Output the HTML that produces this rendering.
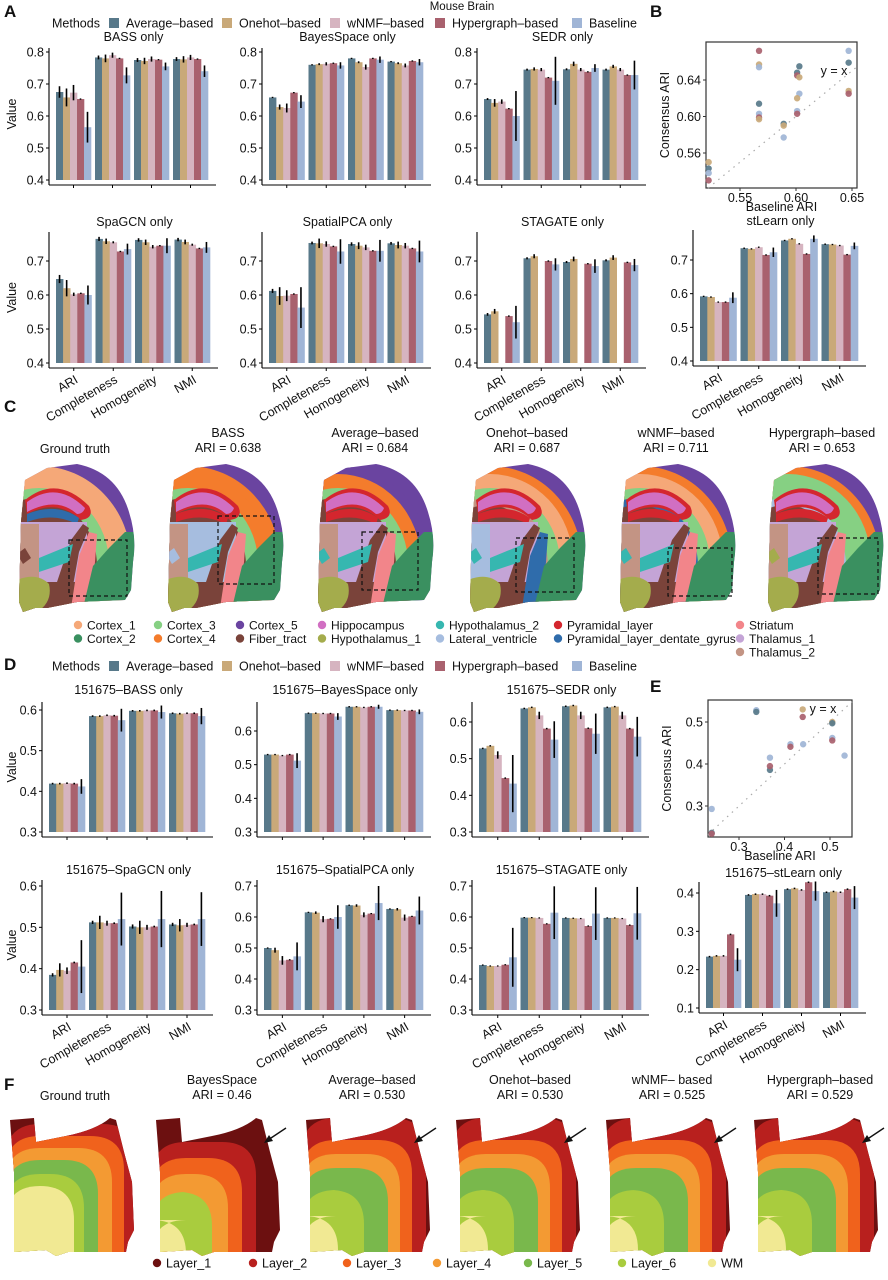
<!DOCTYPE html>
<html><head><meta charset="utf-8"><style>
html,body{margin:0;padding:0;background:#fff;overflow:hidden;width:888px;height:1280px;}
svg{display:block;font-family:"Liberation Sans",Arial,sans-serif;}
</style></head><body>
<svg id="fig" width="888" height="1280" viewBox="0 0 888 1280" xmlns="http://www.w3.org/2000/svg"></svg>
<script>
// ---------- data ----------
const METHODS = ['Average\u2013based','Onehot\u2013based','wNMF\u2013based','Hypergraph\u2013based','Baseline'];
const COLORS = ['#58798a','#c9a979','#d6b4c0','#a9616e','#a0b5d6'];
const METRICS = ['ARI','Completeness','Homogeneity','NMI'];
const TICKS_A1 = [0.4,0.5,0.6,0.7,0.8];
const TICKS_A2 = [0.4,0.5,0.6,0.7];
const TICKS_D1 = [0.3,0.4,0.5,0.6];
const TICKS_D2 = [0.3,0.4,0.5,0.6,0.7];
const TICKS_DL = [0.1,0.2,0.3,0.4];

const A_BASS = [[0.675,0.658,0.673,0.653,0.565],[0.783,0.780,0.790,0.780,0.727],[0.775,0.772,0.778,0.776,0.755],[0.778,0.777,0.783,0.778,0.740]];
const A_BASS_ERR = [[0.018,0.028,0.024,0.002,0.048],[0.006,0.012,0.008,0.002,0.025],[0.006,0.01,0.008,0.002,0.012],[0.006,0.01,0.008,0.002,0.018]];
const A_BAYES = [[0.658,0.628,0.625,0.673,0.645],[0.760,0.762,0.763,0.765,0.758],[0.780,0.768,0.753,0.780,0.776],[0.770,0.765,0.758,0.772,0.768]];
const A_BAYES_ERR = [[0.002,0.008,0.014,0.002,0.02],[0.002,0.003,0.005,0.002,0.01],[0.002,0.003,0.008,0.002,0.01],[0.002,0.003,0.006,0.002,0.01]];
const A_SEDR = [[0.653,0.641,0.645,0.623,0.600],[0.745,0.747,0.745,0.720,0.710],[0.746,0.763,0.745,0.738,0.750],[0.745,0.755,0.745,0.728,0.728]];
const A_SEDR_ERR = [[0.003,0.012,0.007,0.002,0.078],[0.003,0.005,0.005,0.002,0.075],[0.003,0.007,0.005,0.002,0.012],[0.003,0.005,0.005,0.002,0.045]];
const A_SPAGCN = [[0.647,0.620,0.602,0.605,0.600],[0.765,0.758,0.755,0.728,0.735],[0.762,0.755,0.742,0.745,0.745],[0.763,0.756,0.748,0.737,0.740]];
const A_SPAGCN_ERR = [[0.012,0.024,0.005,0.002,0.028],[0.006,0.008,0.003,0.002,0.016],[0.005,0.008,0.005,0.002,0.022],[0.005,0.007,0.003,0.002,0.016]];
const A_SPCA = [[0.612,0.597,0.598,0.603,0.563],[0.753,0.752,0.750,0.743,0.728],[0.750,0.745,0.740,0.730,0.730],[0.752,0.747,0.745,0.737,0.728]];
const A_SPCA_ERR = [[0.006,0.026,0.016,0.002,0.06],[0.004,0.014,0.008,0.002,0.036],[0.005,0.01,0.008,0.002,0.032],[0.004,0.01,0.008,0.002,0.032]];
const A_STAG = [[0.543,0.552,null,0.538,0.520],[0.708,0.714,null,0.700,0.690],[0.697,0.706,null,0.692,0.685],[0.702,0.710,null,0.696,0.688]];
const A_STAG_ERR = [[0.004,0.007,0,0.002,0.048],[0.003,0.006,0,0.002,0.018],[0.003,0.007,0,0.002,0.02],[0.003,0.007,0,0.002,0.018]];
const A_STL = [[0.592,0.590,0.575,0.575,0.588],[0.735,0.733,0.738,0.715,0.723],[0.758,0.763,0.748,0.718,0.763],[0.747,0.746,0.743,0.716,0.742]];
const A_STL_ERR = [[0.002,0.002,0.002,0.002,0.016],[0.002,0.002,0.002,0.002,0.014],[0.002,0.002,0.002,0.002,0.01],[0.002,0.002,0.002,0.002,0.01]];

const D_BASS = [[0.419,0.419,0.420,0.419,0.412],[0.585,0.585,0.587,0.586,0.575],[0.598,0.598,0.599,0.599,0.595],[0.592,0.591,0.592,0.592,0.585]];
const D_BASS_ERR = [[0.002,0.002,0.002,0.002,0.018],[0.002,0.002,0.002,0.002,0.028],[0.002,0.002,0.002,0.002,0.016],[0.002,0.002,0.002,0.002,0.02]];
const D_BAYES = [[0.530,0.530,0.527,0.530,0.512],[0.653,0.653,0.652,0.652,0.643],[0.672,0.672,0.670,0.672,0.672],[0.662,0.662,0.661,0.661,0.657]];
const D_BAYES_ERR = [[0.002,0.002,0.002,0.002,0.022],[0.002,0.002,0.002,0.002,0.01],[0.002,0.002,0.002,0.002,0.006],[0.002,0.002,0.002,0.002,0.007]];
const D_SEDR = [[0.528,0.535,0.510,0.447,0.432],[0.637,0.640,0.618,0.582,0.552],[0.643,0.645,0.618,0.583,0.568],[0.640,0.642,0.618,0.582,0.560]];
const D_SEDR_ERR = [[0.002,0.002,0.01,0.002,0.078],[0.002,0.002,0.01,0.002,0.05],[0.002,0.002,0.01,0.002,0.055],[0.002,0.002,0.01,0.002,0.054]];
const D_SPAGCN = [[0.385,0.397,0.395,0.415,0.405],[0.512,0.512,0.510,0.510,0.520],[0.502,0.500,0.500,0.502,0.520],[0.507,0.505,0.506,0.507,0.520]];
const D_SPAGCN_ERR = [[0.004,0.016,0.008,0.002,0.064],[0.004,0.016,0.006,0.002,0.064],[0.005,0.016,0.006,0.002,0.068],[0.004,0.015,0.005,0.002,0.065]];
const D_SPCA = [[0.500,0.493,0.460,0.462,0.473],[0.615,0.614,0.593,0.594,0.600],[0.638,0.637,0.607,0.611,0.645],[0.626,0.625,0.598,0.602,0.621]];
const D_SPCA_ERR = [[0.002,0.008,0.014,0.002,0.045],[0.002,0.004,0.01,0.002,0.038],[0.002,0.004,0.008,0.002,0.055],[0.002,0.004,0.01,0.002,0.045]];
const D_STAG = [[0.445,0.442,0.442,0.446,0.470],[0.598,0.598,0.597,0.578,0.614],[0.597,0.596,0.595,0.571,0.611],[0.597,0.597,0.595,0.574,0.612]];
const D_STAG_ERR = [[0.002,0.002,0.002,0.002,0.095],[0.002,0.002,0.002,0.002,0.085],[0.002,0.002,0.002,0.002,0.085],[0.002,0.002,0.002,0.002,0.085]];
const D_STL = [[0.234,0.236,0.236,0.292,0.226],[0.395,0.397,0.397,0.393,0.373],[0.410,0.412,0.408,0.428,0.405],[0.402,0.404,0.402,0.410,0.388]];
const D_STL_ERR = [[0.002,0.002,0.002,0.002,0.03],[0.002,0.002,0.002,0.002,0.035],[0.002,0.002,0.002,0.002,0.025],[0.002,0.002,0.002,0.002,0.03]];

const B_BASE = [0.522,0.522,0.522,0.522,0.567,0.567,0.567,0.567,0.567,0.567,0.567,0.589,0.589,0.589,0.601,0.601,0.603,0.603,0.603,0.601,0.601,0.601,0.647,0.647,0.647,0.647];
const B_CONS = [0.550,0.543,0.538,0.530,0.672,0.657,0.654,0.614,0.603,0.599,0.597,0.592,0.590,0.577,0.648,0.645,0.655,0.643,0.625,0.620,0.606,0.603,0.672,0.659,0.628,0.625];
const B_METHOD = [1,0,4,3,3,1,4,0,4,3,1,0,1,4,0,3,0,1,4,1,4,3,4,0,1,3];
const B_XTICKS = [0.55,0.60,0.65];
const B_YTICKS = [0.56,0.60,0.64];
const E_BASE = [0.240,0.240,0.240,0.338,0.338,0.368,0.368,0.368,0.413,0.413,0.441,0.440,0.440,0.505,0.505,0.505,0.505,0.532];
const E_CONS = [0.236,0.234,0.293,0.528,0.524,0.386,0.395,0.415,0.447,0.441,0.447,0.530,0.512,0.500,0.497,0.462,0.456,0.420];
const E_METHOD = [0,3,4,4,0,0,3,4,4,3,4,1,3,1,0,4,3,4];
const E_XTICKS = [0.3,0.4,0.5];
const E_YTICKS = [0.3,0.4,0.5];

const C_LABELS = ['Cortex_1','Cortex_2','Cortex_3','Cortex_4','Cortex_5','Fiber_tract','Hippocampus','Hypothalamus_1','Hypothalamus_2','Lateral_ventricle','Pyramidal_layer','Pyramidal_layer_dentate_gyrus','Striatum','Thalamus_1','Thalamus_2'];
const C_COLORS = ['#f5a878','#3a9060','#86d083','#f47c2c','#6a44a0','#7a433a','#d16fc2','#a4ac4c','#36b7b0','#a6bddf','#d4262e','#2f6cab','#f2858a','#c4a4d6','#c39484'];
const C_TITLES = [['Ground truth',''],['BASS','ARI = 0.638'],['Average\u2013based','ARI = 0.684'],['Onehot\u2013based','ARI = 0.687'],['wNMF\u2013based','ARI = 0.711'],['Hypergraph\u2013based','ARI = 0.653']];
const F_LABELS = ['Layer_1','Layer_2','Layer_3','Layer_4','Layer_5','Layer_6','WM'];
const F_COLORS = ['#6c1010','#b8201e','#f0621c','#f39a33','#79b84c','#a9cc3e','#f1e993'];
const F_TITLES = [['Ground truth',''],['BayesSpace','ARI = 0.46'],['Average\u2013based','ARI = 0.530'],['Onehot\u2013based','ARI = 0.530'],['wNMF\u2013 based','ARI = 0.525'],['Hypergraph\u2013based','ARI = 0.529']];

// ---------- helpers ----------
const NS='http://www.w3.org/2000/svg';
const svg=document.getElementById('fig');
function el(tag,attrs,parent,txt){const e=document.createElementNS(NS,tag);for(const k in attrs)e.setAttribute(k,attrs[k]);if(txt!==undefined)e.textContent=txt;(parent||svg).appendChild(e);return e;}
function text(x,y,s,parent,opt){opt=opt||{};const t=el('text',{x:x,y:y,'font-size':opt.fs||12,fill:opt.fill||'#111','text-anchor':opt.anchor||'middle'},parent,s);if(opt.weight)t.setAttribute('font-weight',opt.weight);if(opt.rot!==undefined)t.setAttribute('transform','rotate('+opt.rot+' '+x+' '+y+')');return t;}

function panelLetter(x,y,s){const t=text(x,y,s,svg,{fs:17,weight:'bold',anchor:'start'});

}

function barPanel(p){
  const g=el('g',{});
  
  
  const k=(p.y0-p.y1)/(p.v1-p.v0);
  const Y=v=>p.y0-(v-p.v0)*k;
  const vmin=p.ticks[0];
  const base=Y(vmin);
  const axY=base+5;
  const gw=(p.bx1-p.bx0)/4, gap=4, bw=(gw-gap)/5;
  const tt=text((p.ax+p.bx1)/2+4,p.ty,p.title,g,{fs:12.5});
  
  
  for(let m=0;m<4;m++){
    for(let s=0;s<5;s++){
      const v=p.data[m][s]; if(v===null) continue;
      const x=p.bx0+m*gw+gap/2+s*bw;
      const r=el('rect',{x:x.toFixed(2),y:Y(v).toFixed(2),width:(bw+0.3).toFixed(2),height:(base-Y(v)).toFixed(2),fill:COLORS[s]},g);
      
      
      const e=p.err[m][s];
      const cx=x+bw/2;
      el('line',{x1:cx,x2:cx,y1:Y(v+e),y2:Y(v-e),stroke:'#000','stroke-width':1.6},g);
    }
  }
  const ya=el('line',{x1:p.ax,x2:p.ax,y1:p.ytop,y2:axY,stroke:'#000','stroke-width':1.1},g);
  
  
  const xa=el('line',{x1:p.ax,x2:p.bx1+6,y1:axY,y2:axY,stroke:'#000','stroke-width':1.1},g);
  
  
  p.ticks.forEach(t=>{
    const y=Y(t);
    el('line',{x1:p.ax-3,x2:p.ax,y1:y,y2:y,stroke:'#000','stroke-width':1},g);
    const lb=text(p.ax-5,y+4.5,t.toFixed(1),g,{fs:12.5,anchor:'end'});
    
    
  });
  for(let m=0;m<4;m++){
    const cx=p.bx0+m*gw+gw/2;
    el('line',{x1:cx,x2:cx,y1:axY,y2:axY+3,stroke:'#000','stroke-width':1},g);
    if(p.labels){
      const lb=text(cx+5,axY+14,METRICS[m],g,{fs:12.5,anchor:'end',rot:-30});
      
      
    }
  }
  if(p.ylab){const yl=text(16,(p.ytop+base)/2,'Value',g,{fs:12.5,rot:-90});
    
    }
}

function methodsLegend(y,name){
  const g=el('g',{});
  
  
  text(52,y+4.5,'Methods',g,{fs:12.5,anchor:'start'});
  const xs=[109,222,330,435,572];
  METHODS.forEach((m,i)=>{
    el('rect',{x:xs[i],y:y-5,width:10,height:10,fill:COLORS[i]},g);
    const t=text(xs[i]+17,y+4.5,m,g,{fs:12.5,anchor:'start'});
    
    
  });
}

function scatter(p){
  const g=el('g',{});
  
  
  const sx=(p.fx1-p.fx0)/(p.xv1-p.xv0), sy=(p.fy0-p.fy1)/(p.yv1-p.yv0);
  const X=v=>p.fx0+(v-p.xv0)*sx;
  const Y=v=>p.fy0-(v-p.yv0)*sy;
  el('rect',{x:p.L,y:p.T,width:p.R-p.L,height:p.B-p.T,fill:'none',stroke:'#333','stroke-width':1.2},g);
  const xa=Math.max((p.L-p.fx0)/sx+p.xv0, p.yv0-(p.B-p.fy0)/sy);
  const xb=Math.min((p.R-p.fx0)/sx+p.xv0, p.yv0+(p.fy0-p.T)/sy);
  const ln=el('line',{x1:X(xa),y1:Y(xa),x2:X(xb),y2:Y(xb),stroke:'#aaa','stroke-width':1.2,'stroke-dasharray':'1.5 5'},g);
  
  
  p.base.forEach((b,i)=>{
    const c=el('circle',{cx:X(b),cy:Y(p.cons[i]),r:3.2,fill:COLORS[p.meth[i]],'fill-opacity':0.92},g);
    
    
  });
  text(p.yxX,p.yxY,'y = x',g,{fs:12.5,anchor:'middle'});
  p.xt.forEach(t=>{el('line',{x1:X(t),x2:X(t),y1:p.B,y2:p.B+3,stroke:'#333'},g);text(X(t),p.B+14,t.toFixed(p.dec),g,{fs:12.5});});
  p.yt.forEach(t=>{el('line',{x1:p.L-3,x2:p.L,y1:Y(t),y2:Y(t),stroke:'#333'},g);text(p.L-5,Y(t)+4.5,t.toFixed(p.dec),g,{fs:12.5,anchor:'end'});});
  const xl=text((p.L+p.R)/2,p.B+23,'Baseline ARI',g,{fs:12.5});
  
  
  const yl=text(p.ylX,(p.T+p.B)/2,'Consensus ARI',g,{fs:12.5,rot:-90});
  
  
}

// ---------- Panel A ----------
panelLetter(4,17,'A');
const mb=text(462,10,'Mouse Brain',svg,{fs:11.5});


methodsLegend(23,'legend-a');
const rowA1={v0:0.4,y0:180,v1:0.8,y1:52,ticks:TICKS_A1,ty:41,ytop:48};
barPanel(Object.assign({name:'chart-a-bass',title:'BASS only',ax:49,bx0:54,bx1:210,data:A_BASS,err:A_BASS_ERR,ylab:true},rowA1));
barPanel(Object.assign({name:'chart-a-bayesspace',title:'BayesSpace only',ax:262,bx0:267,bx1:425,data:A_BAYES,err:A_BAYES_ERR},rowA1));
barPanel(Object.assign({name:'chart-a-sedr',title:'SEDR only',ax:477,bx0:482,bx1:640,data:A_SEDR,err:A_SEDR_ERR},rowA1));
const rowA2={v0:0.4,y0:363,v1:0.7,y1:261,ticks:TICKS_A2,ty:226,ytop:232,labels:true};
barPanel(Object.assign({name:'chart-a-spagcn',title:'SpaGCN only',ax:49,bx0:54,bx1:212,data:A_SPAGCN,err:A_SPAGCN_ERR,ylab:true},rowA2));
barPanel(Object.assign({name:'chart-a-spatialpca',title:'SpatialPCA only',ax:262,bx0:267,bx1:425,data:A_SPCA,err:A_SPCA_ERR},rowA2));
barPanel(Object.assign({name:'chart-a-stagate',title:'STAGATE only',ax:477,bx0:482,bx1:640,data:A_STAG,err:A_STAG_ERR},rowA2));
barPanel({name:'chart-b-stlearn',title:'stLearn only',ax:693,bx0:698,bx1:860,v0:0.4,y0:361,v1:0.7,y1:260,ticks:TICKS_A2,ty:225,ytop:230,labels:true,data:A_STL,err:A_STL_ERR});

// ---------- Panel B ----------
panelLetter(650,17,'B');
scatter({name:'scatter-b',L:706,R:857,T:42,B:188,fx0:740,fx1:852,xv0:0.55,xv1:0.65,fy0:153,fy1:80,yv0:0.56,yv1:0.64,base:B_BASE,cons:B_CONS,meth:B_METHOD,xt:B_XTICKS,yt:B_YTICKS,dec:2,yxX:834,yxY:75,ylX:669});

// ---------- Panel C ----------
panelLetter(4,412,'C');
function brain(ox,oy,variant,idx){
  const g=el('g',{transform:'translate('+ox+','+oy+')'});
  
  
  const cid='bclip'+idx;
  const cp=el('clipPath',{id:cid},g);
  el('path',{d:'M8,18 L30,6 L60,2 Q100,10 112,50 Q120,75 116,100 L114,128 L108,138 L60,140 L30,146 L18,146 L6,150 L2,140 L4,60 Z'},cp);
  const c=el('g',{'clip-path':'url(#'+cid+')'},g);
  const V=variant;
  const col=i=>C_COLORS[i];
  el('rect',{x:0,y:0,width:125,height:150,fill:col(4)},c);
  el('ellipse',{cx:22,cy:100,rx:92,ry:96,fill:V.c1},c);
  el('ellipse',{cx:22,cy:100,rx:83,ry:88,fill:V.c2},c);
  el('ellipse',{cx:22,cy:102,rx:70,ry:76,fill:col(2)},c);
  el('ellipse',{cx:20,cy:104,rx:60,ry:68,fill:V.c3},c);
  el('ellipse',{cx:20,cy:104,rx:52,ry:61,fill:col(5)},c);
  el('path',{d:'M8,38 Q40,12 72,44 Q78,56 64,58 Q40,36 10,52 Z',fill:col(10)},c);
  el('path',{d:'M10,40 Q40,18 68,46 Q66,52 60,52 Q40,34 10,50 Z',fill:col(6)},c);
  el('path',{d:'M10,52 Q40,40 62,56 L60,62 Q36,50 10,60 Z',fill:V.hipp2},c);
  el('rect',{x:0,y:60,width:70,height:60,fill:V.thal},c);
  el('rect',{x:0,y:62,width:22,height:62,fill:V.thal2},c);
  el('path',{d:'M40,120 L54,78 L66,62 L72,66 L62,90 L52,146 L40,146 Z',fill:col(5)},c);
  el('path',{d:'M54,146 L62,94 L72,70 L80,72 L78,100 L72,146 Z',fill:V.str},c);
  el('path',{d:'M66,146 L76,104 L92,86 L108,70 L118,70 L118,146 Z',fill:col(1)},c);
  el('path',{d:'M22,96 L56,82 L52,100 L22,110 Z',fill:col(8)},c);
  el('path',{d:'M0,118 Q20,110 32,122 Q36,140 20,150 L0,150 Z',fill:col(7)},c);
  el('path',{d:'M0,92 L8,86 L14,96 L6,102 Z',fill:V.extra},c);
  el('rect',{x:V.bx,y:V.by,width:V.bw,height:V.bh,fill:'none',stroke:'#111','stroke-width':1.2,'stroke-dasharray':'4 3'},g);
}
const C_X=[17,166,316,468,618,766];
const C_VAR=[
 {c1:C_COLORS[0],c2:C_COLORS[0],c3:C_COLORS[5],hipp2:C_COLORS[11],thal:C_COLORS[13],thal2:C_COLORS[14],str:C_COLORS[12],extra:C_COLORS[5],bx:52,by:78,bw:58,bh:56},
 {c1:C_COLORS[3],c2:C_COLORS[3],c3:C_COLORS[5],hipp2:C_COLORS[10],thal:C_COLORS[9],thal2:C_COLORS[14],str:C_COLORS[12],extra:C_COLORS[9],bx:52,by:54,bw:56,bh:68},
 {c1:C_COLORS[4],c2:C_COLORS[3],c3:C_COLORS[5],hipp2:C_COLORS[10],thal:C_COLORS[13],thal2:C_COLORS[14],str:C_COLORS[12],extra:C_COLORS[8],bx:46,by:70,bw:56,bh:58},
 {c1:C_COLORS[3],c2:C_COLORS[0],c3:C_COLORS[14],hipp2:C_COLORS[10],thal:C_COLORS[13],thal2:C_COLORS[9],str:C_COLORS[11],extra:C_COLORS[8],bx:48,by:76,bw:58,bh:54},
 {c1:C_COLORS[3],c2:C_COLORS[0],c3:C_COLORS[11],hipp2:C_COLORS[10],thal:C_COLORS[13],thal2:C_COLORS[14],str:C_COLORS[12],extra:C_COLORS[8],bx:50,by:86,bw:64,bh:48},
 {c1:C_COLORS[3],c2:C_COLORS[2],c3:C_COLORS[9],hipp2:C_COLORS[10],thal:C_COLORS[13],thal2:C_COLORS[14],str:C_COLORS[12],extra:C_COLORS[7],bx:52,by:76,bw:60,bh:56}
];
C_TITLES.forEach((t,i)=>{
  const cx=[75,228,375,527,676,822][i];
  if(t[1]===''){text(cx,453,t[0],svg,{fs:12.5});}
  else{text(cx,437,t[0],svg,{fs:12.5});text(cx,452,t[1],svg,{fs:12.5});}
  brain(C_X[i],462,C_VAR[i],i);
});
(function(){
  const g=el('g',{});
  
  
  const colX=[78,158,240,322,440,558,740];
  C_LABELS.forEach((l,i)=>{
    const col=Math.floor(i/2), row=i%2;
    let x=colX[Math.min(col,6)], y=625+row*13.5;
    if(i>=12){x=740;y=625+(i-12)*13.5;}
    el('circle',{cx:x,cy:y,r:4.2,fill:C_COLORS[i]},g);
    const t=text(x+9,y+4.3,l,g,{fs:12,anchor:'start'});
    
    
  });
})();

// ---------- Panel D ----------
panelLetter(4,670,'D');
methodsLegend(666,'legend-d');
barPanel({name:'chart-d-bass',title:'151675\u2013BASS only',ax:42,bx0:47,bx1:207,v0:0.3,y0:832,v1:0.6,y1:710,ticks:TICKS_D1,ty:694,ytop:702,data:D_BASS,err:D_BASS_ERR,ylab:true});
barPanel({name:'chart-d-bayesspace',title:'151675\u2013BayesSpace only',ax:257,bx0:262,bx1:425,v0:0.3,y0:832,v1:0.6,y1:731,ticks:TICKS_D1,ty:694,ytop:702,data:D_BAYES,err:D_BAYES_ERR});
barPanel({name:'chart-d-sedr',title:'151675\u2013SEDR only',ax:472,bx0:477,bx1:643,v0:0.3,y0:832,v1:0.6,y1:722,ticks:TICKS_D1,ty:694,ytop:702,data:D_SEDR,err:D_SEDR_ERR});
barPanel({name:'chart-d-spagcn',title:'151675\u2013SpaGCN only',ax:42,bx0:47,bx1:207,v0:0.3,y0:1010,v1:0.6,y1:886,ticks:TICKS_D1,ty:874,ytop:880,labels:true,data:D_SPAGCN,err:D_SPAGCN_ERR,ylab:true});
barPanel({name:'chart-d-spatialpca',title:'151675\u2013SpatialPCA only',ax:257,bx0:262,bx1:425,v0:0.3,y0:1010,v1:0.7,y1:886,ticks:TICKS_D2,ty:874,ytop:880,labels:true,data:D_SPCA,err:D_SPCA_ERR});
barPanel({name:'chart-d-stagate',title:'151675\u2013STAGATE only',ax:472,bx0:477,bx1:643,v0:0.3,y0:1010,v1:0.7,y1:886,ticks:TICKS_D2,ty:874,ytop:880,labels:true,data:D_STAG,err:D_STAG_ERR});
barPanel({name:'chart-e-stlearn',title:'151675\u2013stLearn only',ax:699,bx0:704,bx1:860,v0:0.1,y0:1008,v1:0.4,y1:893,ticks:TICKS_DL,ty:877,ytop:882,labels:true,data:D_STL,err:D_STL_ERR});

// ---------- Panel E ----------
panelLetter(650,692,'E');
scatter({name:'scatter-e',L:708,R:852,T:700,B:837,fx0:739,fx1:830,xv0:0.3,xv1:0.5,fy0:806,fy1:722,yv0:0.3,yv1:0.5,base:E_BASE,cons:E_CONS,meth:E_METHOD,xt:E_XTICKS,yt:E_YTICKS,dec:1,yxX:823,yxY:713,ylX:671});

// ---------- Panel F ----------
panelLetter(4,1090,'F');
const F_BASE = [0,0,0,0,0,0];
const F_LAYOUT = [
  [[1,130,12],[2,118,24],[3,106,36],[4,92,48],[5,78,62],[6,68,74]],
  [[1,104,30],[2,90,46],[3,76,62],[5,60,80],[6,34,108]],
  [[1,124,6],[2,110,28],[3,98,42],[4,86,56],[5,62,78],[6,36,104]],
  [[1,124,6],[2,110,28],[3,98,42],[4,86,56],[5,62,78],[6,36,104]],
  [[1,124,6],[2,110,28],[3,98,42],[4,86,56],[5,62,78],[6,36,104]],
  [[1,124,6],[2,110,28],[3,98,42],[4,86,56],[5,62,78],[6,36,104]]
];
function layerMap(ox,oy,layout,baseIdx,idx,arrow){
  const g=el('g',{transform:'translate('+ox+','+oy+')'});
  
  
  const cid='fclip'+idx;
  const cp=el('clipPath',{id:cid},g);
  el('path',{d:'M4,8 L28,6 L30,30 L60,24 Q90,18 104,6 L110,8 L118,40 L126,70 L128,118 L122,130 L120,140 L62,140 L50,144 L40,138 L8,140 L8,110 L8,60 L6,34 Z'},cp);
  const c=el('g',{'clip-path':'url(#'+cid+')'},g);
  el('rect',{x:0,y:0,width:132,height:146,fill:F_COLORS[baseIdx]},c);
  layout.forEach(L=>{el('path',{d:'M0,146 L0,'+(L[2]+34)+' Q0,'+L[2]+' 34,'+L[2]+' L'+(L[1]-34)+','+L[2]+' Q'+L[1]+','+L[2]+' '+L[1]+','+(L[2]+34)+' L'+L[1]+',146 Z',fill:F_COLORS[L[0]]},c);});
  if(arrow){
    el('line',{x1:134,y1:16,x2:116,y2:28,stroke:'#111','stroke-width':1.4},g);
    el('path',{d:'M112,31 L117,23 L121,29 Z',fill:'#111'},g);
  }
}
const F_X=[6,152,302,452,602,750];
F_TITLES.forEach((t,i)=>{
  const cx=[75,222,372,530,672,820][i];
  if(t[1]===''){text(cx,1100,t[0],svg,{fs:12.5});}
  else{text(cx,1084,t[0],svg,{fs:12.5});text(cx,1099,t[1],svg,{fs:12.5});}
  layerMap(F_X[i],1112,F_LAYOUT[i],F_BASE[i],i,i>0);
});
(function(){
  const g=el('g',{});
  
  
  const xs=[157,253,347,437,528,622,712];
  F_LABELS.forEach((l,i)=>{
    el('circle',{cx:xs[i],cy:1263,r:4.2,fill:F_COLORS[i]},g);
    const t=text(xs[i]+9,1267.5,l,g,{fs:12.5,anchor:'start'});
    
    
  });
})();
</script>
</body></html>
